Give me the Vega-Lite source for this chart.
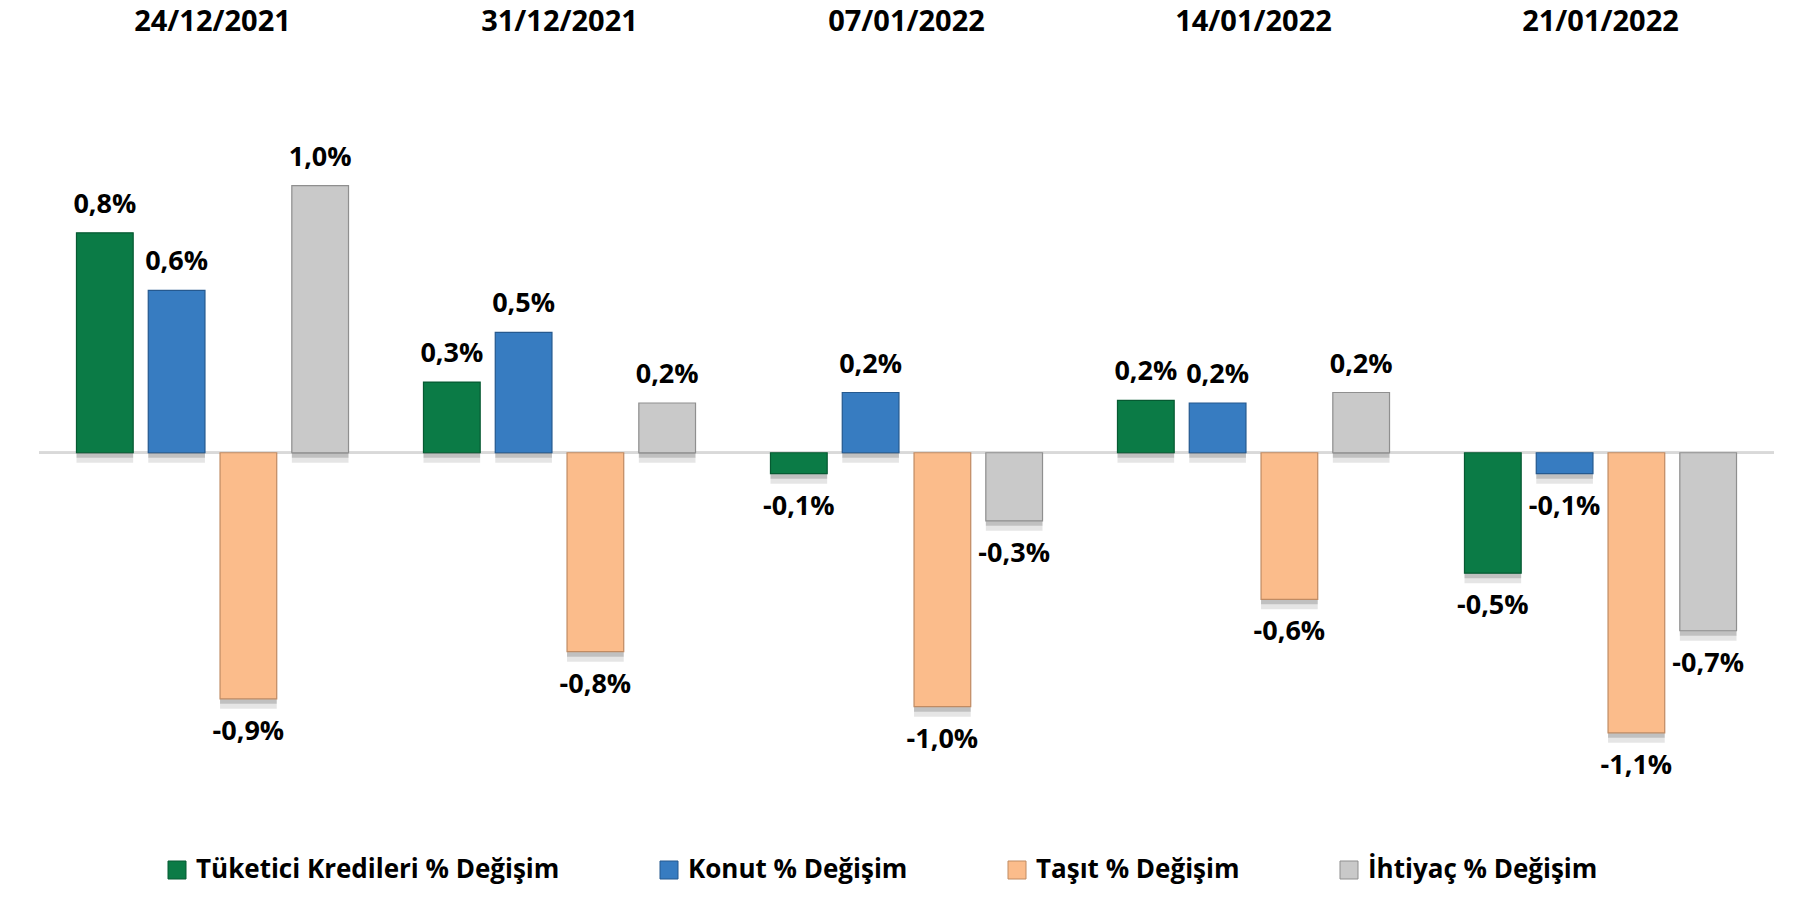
{
  "$schema": "https://vega.github.io/schema/vega-lite/v6.json",
  "autosize": "none",
  "width": 1735,
  "height": 720,
  "padding": {"left": 39, "top": 60, "right": 20, "bottom": 117},
  "background": "white",
  "config": {
    "view": {"stroke": null},
    "font": "Open Sans",
    "locale": {"number": {"decimal": ",", "thousands": ".", "grouping": [3], "currency": ["", " TL"], "minus": "-"}}
  },
  "data": {"values": [
    {"date": "24/12/2021", "series": "Tüketici Kredileri % Değişim", "value": 0.0084},
    {"date": "24/12/2021", "series": "Konut % Değişim", "value": 0.0062},
    {"date": "24/12/2021", "series": "Taşıt % Değişim", "value": -0.0094},
    {"date": "24/12/2021", "series": "İhtiyaç % Değişim", "value": 0.0102},
    {"date": "31/12/2021", "series": "Tüketici Kredileri % Değişim", "value": 0.0027},
    {"date": "31/12/2021", "series": "Konut % Değişim", "value": 0.0046},
    {"date": "31/12/2021", "series": "Taşıt % Değişim", "value": -0.0076},
    {"date": "31/12/2021", "series": "İhtiyaç % Değişim", "value": 0.0019},
    {"date": "07/01/2022", "series": "Tüketici Kredileri % Değişim", "value": -0.0008},
    {"date": "07/01/2022", "series": "Konut % Değişim", "value": 0.0023},
    {"date": "07/01/2022", "series": "Taşıt % Değişim", "value": -0.0097},
    {"date": "07/01/2022", "series": "İhtiyaç % Değişim", "value": -0.0026},
    {"date": "14/01/2022", "series": "Tüketici Kredileri % Değişim", "value": 0.0020},
    {"date": "14/01/2022", "series": "Konut % Değişim", "value": 0.0019},
    {"date": "14/01/2022", "series": "Taşıt % Değişim", "value": -0.0056},
    {"date": "14/01/2022", "series": "İhtiyaç % Değişim", "value": 0.0023},
    {"date": "21/01/2022", "series": "Tüketici Kredileri % Değişim", "value": -0.0046},
    {"date": "21/01/2022", "series": "Konut % Değişim", "value": -0.0008},
    {"date": "21/01/2022", "series": "Taşıt % Değişim", "value": -0.0107},
    {"date": "21/01/2022", "series": "İhtiyaç % Değişim", "value": -0.0068}
  ]},
  "encoding": {
    "x": {
      "field": "date", "type": "nominal",
      "sort": ["24/12/2021", "31/12/2021", "07/01/2022", "14/01/2022", "21/01/2022"],
      "scale": {"paddingInner": 0.216, "paddingOuter": 0.108},
      "axis": {"orient": "top", "title": null, "domain": false, "ticks": false, "labelAngle": 0,
               "labelFont": "Open Sans", "labelFontSize": 29, "labelFontWeight": "bold", "labelColor": "#000000",
               "labelPadding": 24}
    },
    "xOffset": {
      "field": "series", "type": "nominal",
      "sort": ["Tüketici Kredileri % Değişim", "Konut % Değişim", "Taşıt % Değişim", "İhtiyaç % Değişim"],
      "scale": {"paddingInner": 0.21, "paddingOuter": 0}
    },
    "y": {
      "field": "value", "type": "quantitative",
      "scale": {"domain": [-0.0125, 0.015], "nice": false, "zero": true},
      "axis": null
    }
  },
  "layer": [
    {
      "mark": {"type": "rule", "color": "#d9d9d9", "strokeWidth": 2},
      "encoding": {"x": null, "xOffset": null, "y": {"datum": 0, "type": "quantitative"}}
    },
    {
      "mark": {"type": "bar", "color": "#000000", "opacity": 0.1, "yOffset": 10, "y2Offset": 10},
      "encoding": {"y2": {"datum": 0}}
    },
    {
      "mark": {"type": "bar", "color": "#000000", "opacity": 0.16, "yOffset": 5, "y2Offset": 5},
      "encoding": {"y2": {"datum": 0}}
    },
    {
      "mark": {"type": "bar", "strokeWidth": 1.2},
      "encoding": {
        "y2": {"datum": 0},
        "color": {
          "field": "series", "type": "nominal",
          "scale": {
            "domain": ["Tüketici Kredileri % Değişim", "Konut % Değişim", "Taşıt % Değişim", "İhtiyaç % Değişim"],
            "range": ["#0b7b46", "#377cc1", "#fbbc8b", "#c9c9c9"]
          },
          "legend": {
            "orient": "none", "legendX": 125, "legendY": 797, "direction": "horizontal",
            "title": null, "padding": 0, "columnPadding": 96,
            "symbolType": "square", "symbolSize": 324, "symbolStrokeWidth": 1, "symbolStrokeColor": "#555555",
            "labelFont": "Open Sans", "labelFontSize": 26, "labelFontWeight": "bold", "labelColor": "#000000",
            "labelOffset": 6, "labelLimit": 600
          }
        },
        "stroke": {
          "field": "series", "type": "nominal",
          "scale": {
            "domain": ["Tüketici Kredileri % Değişim", "Konut % Değişim", "Taşıt % Değişim", "İhtiyaç % Değişim"],
            "range": ["#065a32", "#25598f", "#c08b63", "#8f8f8f"]
          },
          "legend": null
        }
      }
    },
    {
      "transform": [{"filter": "datum.value >= 0"}],
      "mark": {"type": "text", "baseline": "alphabetic", "align": "center", "dy": -20,
               "font": "Open Sans", "fontSize": 27, "fontWeight": "bold", "color": "#000000"},
      "encoding": {"text": {"field": "value", "type": "quantitative", "format": ".1%"}}
    },
    {
      "transform": [{"filter": "datum.value < 0"}],
      "mark": {"type": "text", "baseline": "top", "align": "center", "dy": 20,
               "font": "Open Sans", "fontSize": 27, "fontWeight": "bold", "color": "#000000"},
      "encoding": {"text": {"field": "value", "type": "quantitative", "format": ".1%"}}
    }
  ]
}
